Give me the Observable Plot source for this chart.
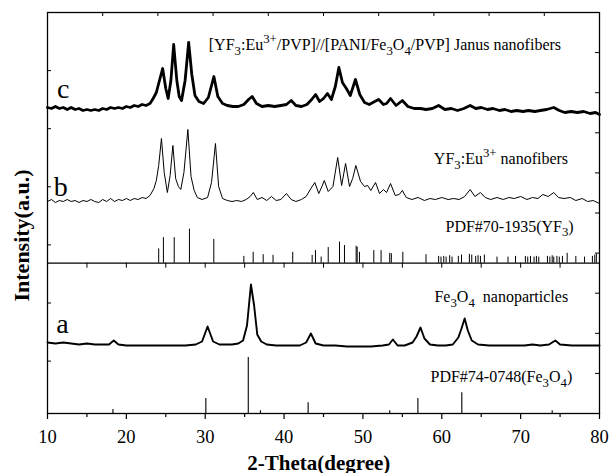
<!DOCTYPE html>
<html><head><meta charset="utf-8">
<script src="https://cdn.jsdelivr.net/npm/d3@7"></script>
<script src="https://cdn.jsdelivr.net/npm/@observablehq/plot@0.6"></script>
<style>
html,body{margin:0;padding:0;background:#fff}
#chart svg, #chart svg text, #chart svg g { font-family: 'Liberation Serif', 'Times New Roman', serif !important; }
</style>
</head><body><div id="chart"></div>
<script>
// ---- data: [2θ (degree), intensity (a.u.)] ----
const traceC = [[10,11],[10.5,10],[11,12],[11.5,10],[12,11],[12.5,9],[13,11],[13.5,9],[14,10],[14.5,8],[15,9],[15.5,8],[16,9],[16.5,8],[17,10],[17.5,9],[18,11],[18.5,10],[19,11],[19.5,10],[20,12],[20.5,11],[21,13],[21.5,12],[22,14],[22.5,13],[23,15],[23.4,20],[23.8,26],[24.2,38],[24.6,50],[25,30],[25.3,20],[25.65,38],[26,74],[26.4,38],[26.7,22],[27,18],[27.45,38],[27.9,76],[28.3,44],[28.7,23],[29.2,17],[29.8,15],[30.4,21],[31.1,42],[31.6,22],[32.2,15],[32.8,13],[33.5,12],[34.2,12],[34.9,14],[35.5,19],[35.95,22],[36.5,15],[37.2,12],[38,13],[38.8,12],[39.6,13],[40.3,14],[40.9,18],[41.5,13],[42.2,12],[42.9,14],[43.5,19],[44,24],[44.5,17],[45,20],[45.5,25],[46,19],[46.5,32],[46.95,51],[47.4,36],[47.9,30],[48.4,23],[49.05,39],[49.6,24],[50.2,16],[50.8,14],[51.5,17],[52,19],[52.6,14],[53,15],[53.5,20],[54.2,13],[55,18],[55.7,12],[56.5,10],[57.3,10],[58,9],[58.8,10],[59.6,13],[60.4,9],[61.2,10],[62,8],[62.8,10],[63.6,13],[64.3,10],[65,11],[65.8,9],[66.5,10],[67.3,8],[68,9],[68.8,7],[69.5,8],[70.3,7],[71,8],[71.8,7],[72.5,8],[73.3,9],[74.2,11],[74.9,8],[75.6,6],[76.4,7],[77.2,6],[78,7],[78.8,5],[79.5,6],[80,4]];

const traceB = [[10,9],[10.5,11],[11,8],[11.5,10],[12,9],[12.5,11],[13,9],[13.5,10],[14,8],[14.5,10],[15,9],[15.5,11],[16,9],[16.5,8],[17,11],[17.5,9],[18,12],[18.5,9],[19,11],[19.5,10],[20,12],[20.5,10],[21,12],[21.5,11],[22,13],[22.5,12],[23,15],[23.5,22],[23.8,30],[24.1,45],[24.45,72],[24.8,38],[25.2,18],[25.55,35],[25.9,65],[26.25,32],[26.6,24],[26.9,21],[27.3,38],[27.8,81],[28.2,34],[28.6,20],[29,13],[29.6,11],[30.3,13],[30.8,28],[31.3,67],[31.7,24],[32.2,12],[32.8,10],[33.4,9],[34,10],[34.6,9],[35.2,11],[35.7,14],[36.1,18],[36.6,11],[37.2,13],[37.8,10],[38.4,14],[39,10],[39.6,11],[40.3,17],[40.9,11],[41.5,9],[42.2,11],[42.8,14],[43.4,22],[43.9,28],[44.4,17],[44.8,24],[45.1,30],[45.6,19],[46.2,24],[46.8,53],[47.3,25],[47.8,47],[48.3,24],[48.7,32],[49.1,45],[49.7,29],[50.2,24],[50.6,25],[51,20],[51.6,28],[52.1,17],[52.6,21],[53,18],[53.5,27],[54.1,15],[54.6,16],[55,20],[55.5,13],[56.2,11],[57,13],[57.8,10],[58.5,12],[59.2,11],[60,13],[60.8,11],[61.5,12],[62.2,11],[62.9,14],[63.6,21],[64.2,14],[64.9,18],[65.5,13],[66.2,11],[67,13],[67.8,11],[68.5,13],[69.2,12],[70,14],[70.8,11],[71.5,13],[72.2,12],[72.8,16],[73.5,14],[74.2,18],[74.8,13],[75.5,12],[76.3,13],[77,10],[77.8,12],[78.5,9],[79.2,10],[80,7]];

const traceA = [[10,11],[11,10],[12,11],[13,10],[14,9],[15,10],[16,9],[17,9],[17.8,9],[18.4,13],[19,9],[20,8],[21.5,8],[23,8],[24.5,8],[26,8],[27.5,8],[28.8,9],[29.6,12],[30.3,27],[31,12],[31.8,9],[32.6,9],[33.4,9],[34.2,10],[34.8,13],[35.3,28],[35.8,69],[36.2,48],[36.6,19],[37.1,12],[37.8,9],[39,8],[40.5,8],[42,8],[42.8,11],[43.4,20],[44,10],[45,8],[46.5,8],[48,7],[49.5,7],[51,7],[52.5,8],[53.3,9],[53.8,14],[54.4,8],[55.3,8],[56.3,11],[56.8,17],[57.3,26],[57.8,15],[58.5,9],[59.5,8],[60.5,8],[61.4,9],[62.1,16],[62.5,25],[62.9,35],[63.3,23],[63.8,13],[64.6,9],[66,8],[67.5,8],[69,8],[70.5,8],[71.5,9],[72.5,8],[73.6,9],[74.4,13],[75,9],[76.5,8],[78,8],[79,8],[80,8]];

// standard patterns: [2θ, relative intensity %]
const pdfYF3 = [[24.1,42],[24.7,75],[26.07,75],[28.0,100],[31.09,70],[34.9,20],[36.08,32],[37.35,25],[38.6,23],[41.1,32],[43.56,23],[43.98,37],[44.7,18],[45.6,46],[47.03,62],[47.66,52],[49.14,50],[49.27,47],[49.56,32],[51.38,37],[52.3,37],[53.4,29],[53.6,28],[55.06,32],[58.0,25],[59.6,20],[59.9,18],[60.25,20],[60.55,18],[61.0,22],[61.3,18],[62.1,20],[62.5,24],[63.5,26],[63.8,24],[64.3,20],[64.6,22],[64.9,20],[65.4,24],[67.0,18],[68.4,18],[69.35,20],[70.6,20],[70.9,18],[71.25,20],[71.7,18],[72.0,20],[72.3,18],[73.4,20],[73.7,18],[74.0,22],[74.2,18],[74.6,20],[74.9,18],[75.3,20],[75.9,29],[77.0,20],[78.1,18],[79.1,20],[79.4,24],[79.6,27]];
const pdfFe3O4 = [[18.3,7],[30.08,27],[35.46,100],[37.0,5],[43.05,19],[53.4,5],[56.97,27],[62.54,37],[74.0,5]];

const xTicks = [10, 20, 30, 40, 50, 60, 70, 80];

const labels = [
  {x: 30.45, y: 363.7, text: "[YF_{3}:Eu^{3+}/PVP]//[PANI/Fe_{3}O_{4}/PVP] Janus nanofibers"},
  {x: 58.99, y: 249.7, text: "YF_{3}:Eu^{3+} nanofibers"},
  {x: 60.47, y: 182, text: "PDF#70-1935(YF_{3})"},
  {x: 59.07, y: 111.3, text: "Fe_{3}O_{4}  nanoparticles"},
  {x: 58.57, y: 31.3, text: "PDF#74-0748(Fe_{3}O_{4})"}
];
const letters = [
  {x: 11.2, y: 316, text: "c"},
  {x: 10.8, y: 218, text: "b"},
  {x: 11.1, y: 81, text: "a"}
];

// ---- layout constants ----
const SERIF = "'Liberation Serif', 'Times New Roman', serif";
const OFF_C = 295, OFF_B = 203, OFF_A = 60, DIVIDER = 150.3;
const K_YF3 = 0.34, K_FE = 0.56;
const PX = 552 / 70; // px per degree
const YMAX = 401;

const shift = (arr, off) => arr.map(([x, y]) => ({x, y: y + off}));

const chart = Plot.plot({
  width: 611, height: 473,
  marginLeft: 47, marginRight: 12, marginTop: 12, marginBottom: 60,
  style: {fontFamily: SERIF, color: "black", background: "white", overflow: "visible"},
  x: {domain: [10, 80]},
  y: {domain: [0, YMAX], axis: null},
  marks: [
    Plot.ruleX(pdfYF3, {x: d => d[0], y1: DIVIDER, y2: d => DIVIDER + d[1] * K_YF3, stroke: "black", strokeWidth: 1}),
    Plot.ruleX(pdfFe3O4, {x: d => d[0], y1: 0, y2: d => d[1] * K_FE, stroke: "black", strokeWidth: 1.1}),
    Plot.line(shift(traceA, OFF_A), {x: "x", y: "y", stroke: "black", strokeWidth: 1.9, strokeLinejoin: "round"}),
    Plot.line(shift(traceB, OFF_B), {x: "x", y: "y", stroke: "black", strokeWidth: 1, strokeLinejoin: "round"}),
    Plot.line(shift(traceC, OFF_C), {x: "x", y: "y", stroke: "black", strokeWidth: 2.8, strokeLinejoin: "round"}),
    Plot.frame({stroke: "black", strokeWidth: 1.3}),
    Plot.ruleY([DIVIDER], {stroke: "black", strokeWidth: 1.3}),
    Plot.axisX(xTicks, {anchor: "bottom", tickSize: 6, tickPadding: 10, fontSize: 18.5, fontFamily: SERIF, label: null, strokeWidth: 1.2}),
    Plot.ruleX(d3.range(15, 80, 10), {y1: 0, y2: -4, stroke: "black", strokeWidth: 1.2}),
    Plot.ruleX(d3.range(15, 80, 5), {y1: DIVIDER, y2: DIVIDER - 5, stroke: "black", strokeWidth: 1}),
    Plot.ruleX(d3.range(17, 80, 7), {y1: YMAX, y2: YMAX - 4, stroke: "black", strokeWidth: 1}),
    Plot.ruleY(d3.range(YMAX - 58.1, 1, -58.1), {x1: 10, x2: 10 + 4 / PX, stroke: "black", strokeWidth: 1}),
    Plot.ruleY(d3.range(40.1, YMAX - 1, 40.1), {x1: 80 - 4 / PX, x2: 80, stroke: "black", strokeWidth: 1}),
    Plot.text(labels, {x: "x", y: "y", text: "text", textAnchor: "start", lineAnchor: "bottom", fontSize: 16, fontFamily: SERIF, fill: "black"}),
    Plot.text(letters, {x: "x", y: "y", text: "text", textAnchor: "start", lineAnchor: "bottom", fontSize: 28, fontFamily: SERIF, fill: "black"}),
    Plot.text(["2-Theta(degree)"], {x: 44.4, y: -56, text: d => d, lineAnchor: "bottom", fontSize: 21, fontFamily: SERIF, fontWeight: "bold", fill: "black"}),
    Plot.text(["Intensity(a.u.)"], {x: 10 - 18.5 / PX, y: 413 - 235, text: d => d, rotate: -90, lineAnchor: "bottom", fontSize: 22, fontFamily: SERIF, fontWeight: "bold", fill: "black"})
  ]
});

document.getElementById("chart").appendChild(chart);
chart.querySelectorAll("text, g").forEach(el => el.setAttribute("font-family", SERIF));

// render _{..} and ^{..} as sub/superscript tspans
const NS = "http://www.w3.org/2000/svg";
chart.querySelectorAll("text").forEach(t => {
  const s = t.textContent;
  if (!/[_^]\{/.test(s)) return;
  const fs = parseFloat(getComputedStyle(t).fontSize) || 16;
  const segs = [];
  const re = /([_^])\{([^}]*)\}/g;
  let last = 0, m;
  while ((m = re.exec(s))) {
    if (m.index > last) segs.push({kind: "", str: s.slice(last, m.index)});
    segs.push({kind: m[1], str: m[2]});
    last = re.lastIndex;
  }
  if (last < s.length) segs.push({kind: "", str: s.slice(last)});
  while (t.firstChild) t.removeChild(t.firstChild);
  let cur = 0;
  segs.forEach(seg => {
    const ts = document.createElementNS(NS, "tspan");
    ts.textContent = seg.str;
    const target = seg.kind === "_" ? 0.3 * fs : seg.kind === "^" ? -0.42 * fs : 0;
    if (target - cur !== 0) ts.setAttribute("dy", (target - cur).toFixed(2));
    cur = target;
    if (seg.kind) ts.setAttribute("font-size", (0.8 * fs).toFixed(2));
    t.appendChild(ts);
  });
  t.setAttribute("style", (t.getAttribute("style") || "") + ";white-space:pre");
});
</script></body></html>
